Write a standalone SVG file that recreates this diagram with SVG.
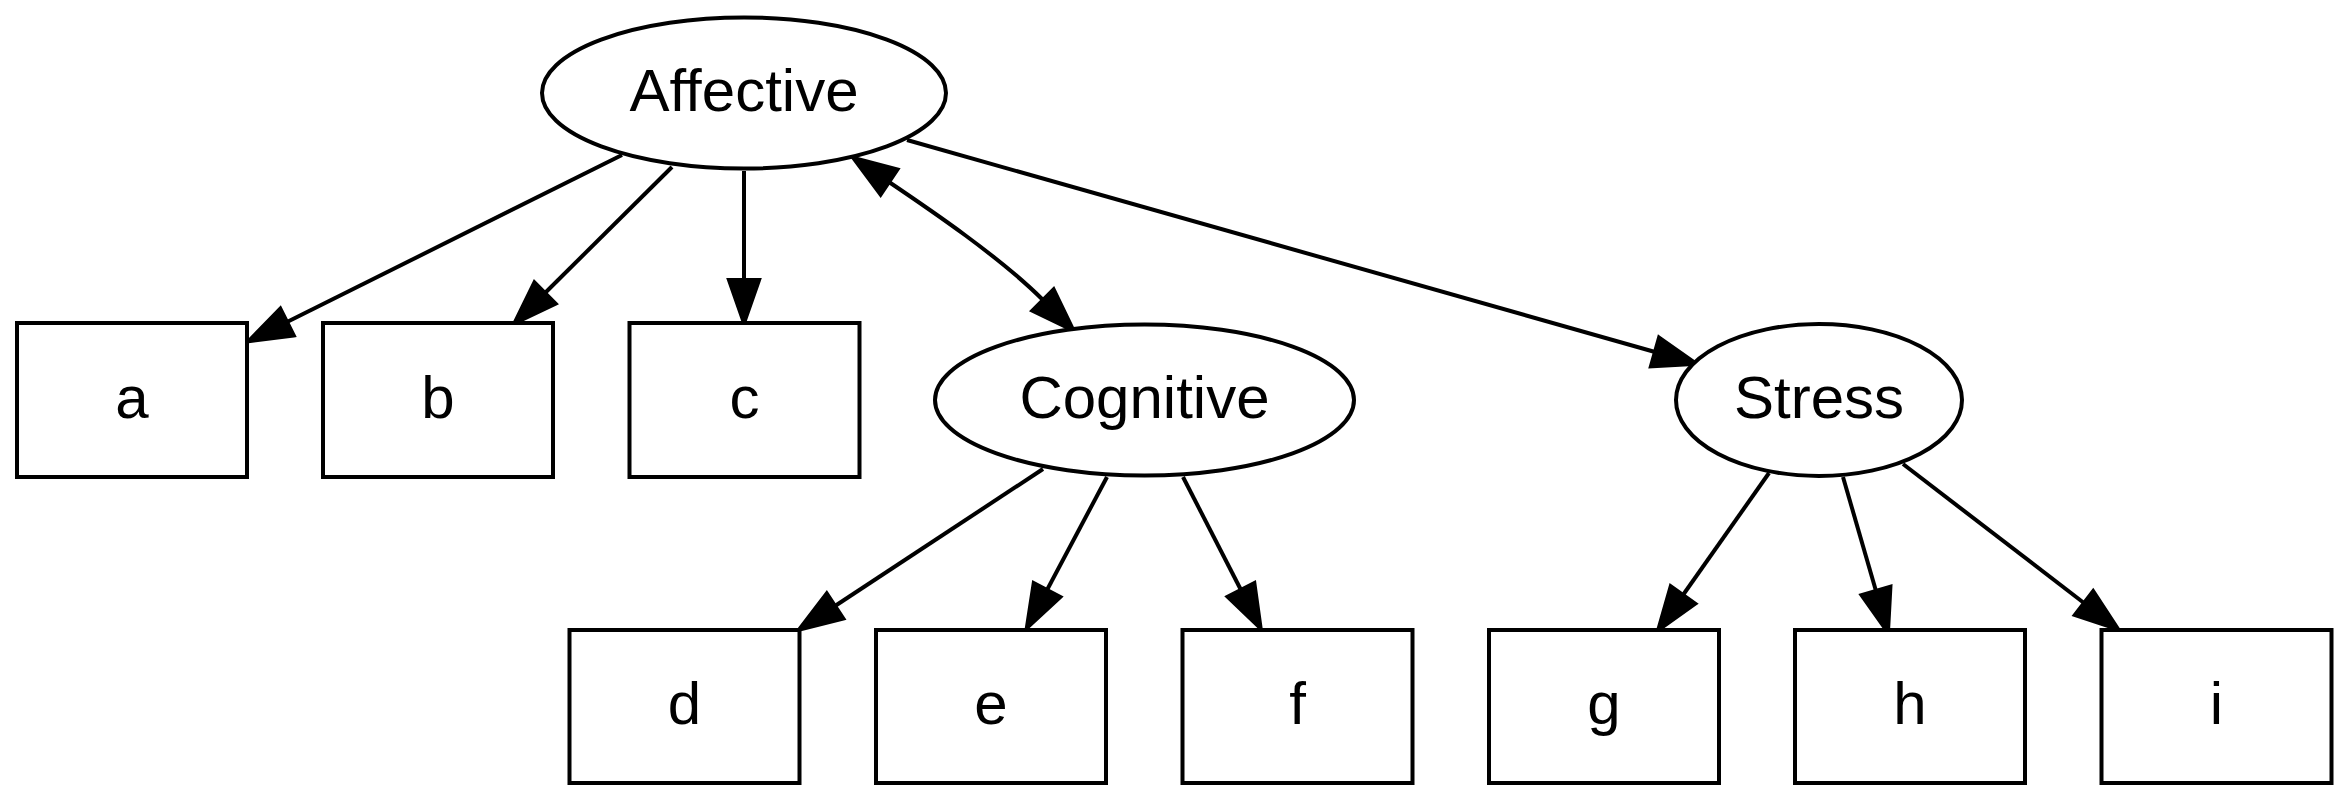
<svg xmlns="http://www.w3.org/2000/svg" width="2349" height="800" viewBox="0 0 2349 800">
<style>
  .shape { fill: #ffffff; stroke: #000000; stroke-width: 4; }
  .lbl { font-family: "Liberation Sans", Arial, Helvetica, sans-serif; font-size: 60px; text-anchor: middle; fill: #000000; }
  .edge { fill: none; stroke: #000000; stroke-width: 4; }
</style>
<defs>
  <marker id="arrow" markerUnits="userSpaceOnUse" viewBox="-5 -20 55 40" refX="0" refY="0" markerWidth="55" markerHeight="40" orient="auto-start-reverse" overflow="visible">
    <path d="M0,-15 L43,0 L0,15 Z" fill="#000000" stroke="#000000" stroke-width="4" stroke-linejoin="miter"/>
  </marker>
</defs>
<rect x="0" y="0" width="2349" height="800" fill="#ffffff"/>
<g id="connectors">
  <path class="edge" d="M622,155 L287,322" marker-end="url(#arrow)"/>
  <path class="edge" d="M672,167 L545,293" marker-end="url(#arrow)"/>
  <path class="edge" d="M744,171 L744,280" marker-end="url(#arrow)"/>
  <path class="edge" d="M889,182 C929,209 1000,257 1043,300" marker-start="url(#arrow)" marker-end="url(#arrow)"/>
  <path class="edge" d="M907,140 L1655,352" marker-end="url(#arrow)"/>
  <path class="edge" d="M1043,469 L835,606" marker-end="url(#arrow)"/>
  <path class="edge" d="M1107,477 L1047,590" marker-end="url(#arrow)"/>
  <path class="edge" d="M1183,477 L1241,590" marker-end="url(#arrow)"/>
  <path class="edge" d="M1769,473 L1683,595" marker-end="url(#arrow)"/>
  <path class="edge" d="M1843,477 L1876,591" marker-end="url(#arrow)"/>
  <path class="edge" d="M1903,464 L2084,603" marker-end="url(#arrow)"/>
</g>
<g id="Affective">
  <ellipse class="shape" cx="744" cy="93" rx="202" ry="75.5"/>
  <text class="lbl" x="744" y="111">Affective</text>
</g>
<g id="a">
  <rect class="shape" x="17" y="323" width="230" height="154"/>
  <text class="lbl" x="132" y="418">a</text>
</g>
<g id="b">
  <rect class="shape" x="323" y="323" width="230" height="154"/>
  <text class="lbl" x="438" y="418">b</text>
</g>
<g id="c">
  <rect class="shape" x="629.5" y="323" width="230" height="154"/>
  <text class="lbl" x="744.5" y="418">c</text>
</g>
<g id="Cognitive">
  <ellipse class="shape" cx="1144.5" cy="400" rx="209.5" ry="75.5"/>
  <text class="lbl" x="1144.5" y="418">Cognitive</text>
</g>
<g id="Stress">
  <ellipse class="shape" cx="1819" cy="400" rx="143" ry="76"/>
  <text class="lbl" x="1819" y="418">Stress</text>
</g>
<g id="d">
  <rect class="shape" x="569.5" y="630" width="230" height="153"/>
  <text class="lbl" x="684.5" y="724">d</text>
</g>
<g id="e">
  <rect class="shape" x="876" y="630" width="230" height="153"/>
  <text class="lbl" x="991" y="724">e</text>
</g>
<g id="f">
  <rect class="shape" x="1182.5" y="630" width="230" height="153"/>
  <text class="lbl" x="1297.5" y="724">f</text>
</g>
<g id="g">
  <rect class="shape" x="1489" y="630" width="230" height="153"/>
  <text class="lbl" x="1604" y="724">g</text>
</g>
<g id="h">
  <rect class="shape" x="1795" y="630" width="230" height="153"/>
  <text class="lbl" x="1910" y="724">h</text>
</g>
<g id="i">
  <rect class="shape" x="2101.5" y="630" width="230" height="153"/>
  <text class="lbl" x="2216.5" y="724">i</text>
</g>
</svg>
